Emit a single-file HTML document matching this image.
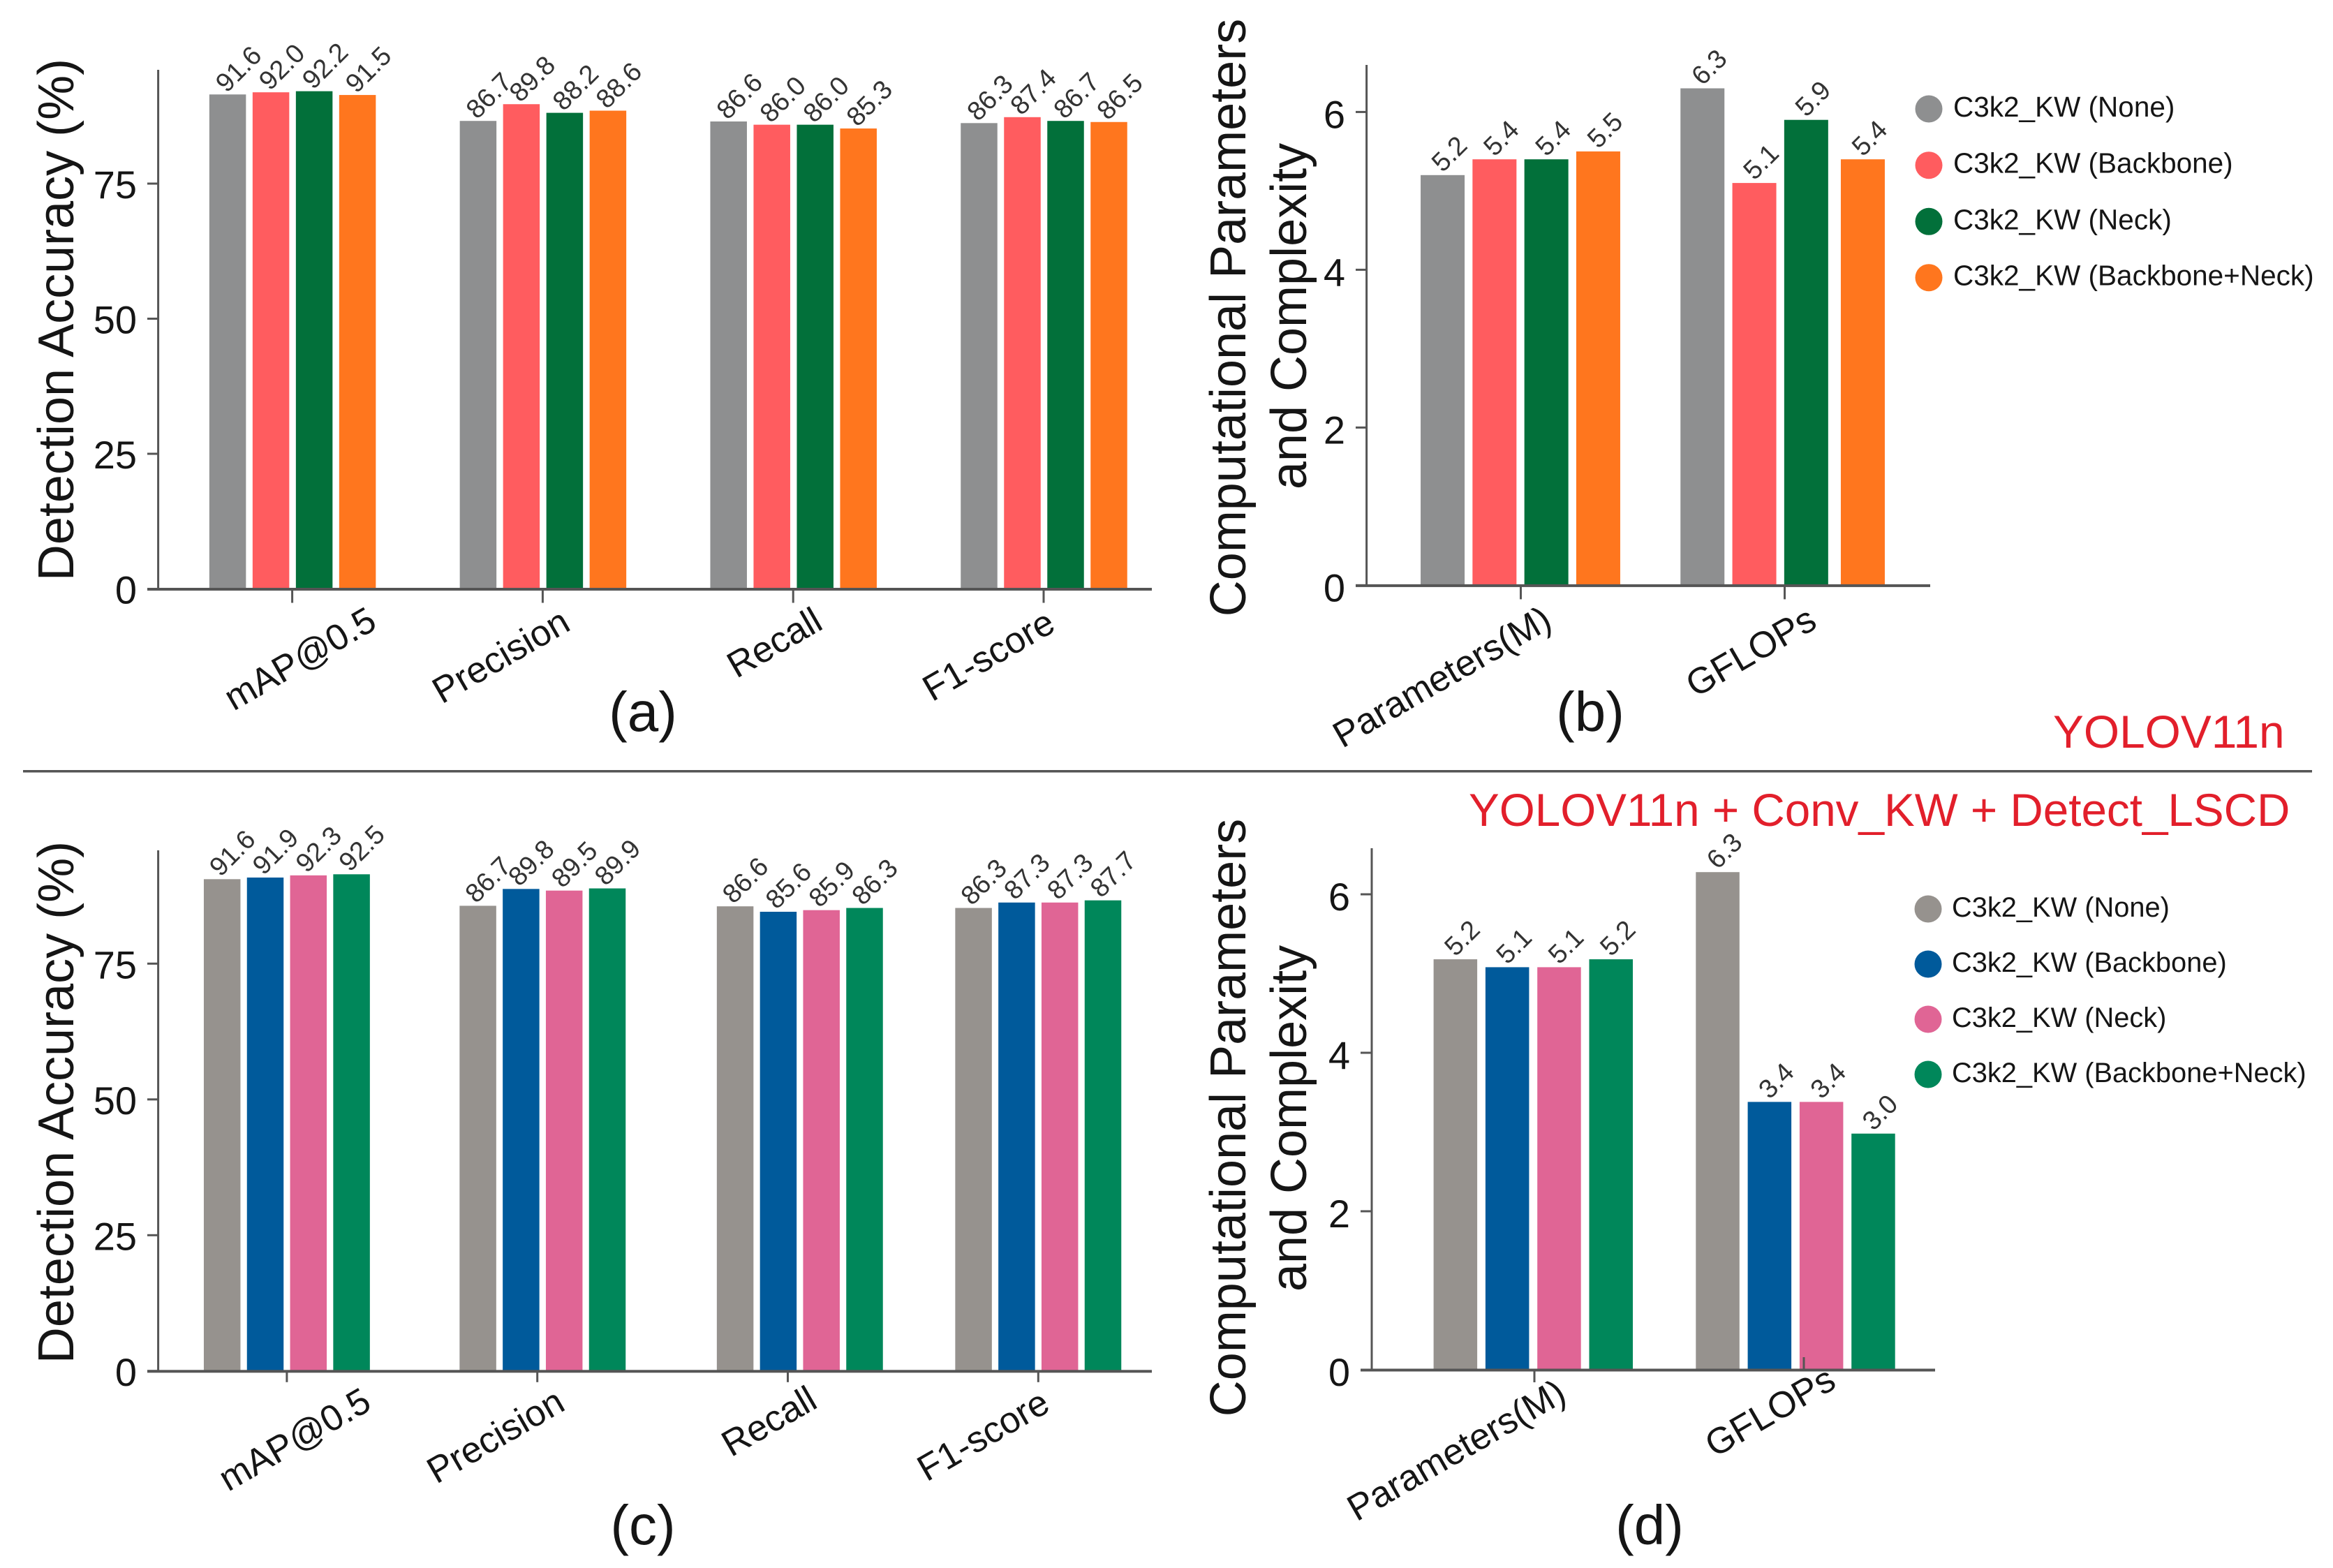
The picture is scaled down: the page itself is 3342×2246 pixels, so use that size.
<!DOCTYPE html>
<html lang="en">
<head>
<meta charset="utf-8">
<title>C3k2_KW detection accuracy and complexity comparison</title>
<style>
  html, body { margin: 0; padding: 0; background: #fff; }
  svg { display: block; }
  text { font-family: "Liberation Sans", Arial, sans-serif; fill: #151515; }
</style>
</head>
<body>
<svg id="figure" xmlns="http://www.w3.org/2000/svg" width="3342" height="2246" viewBox="0 0 3342 2246">
  <rect x="0" y="0" width="3342" height="2246" fill="#fff"/>
  <rect x="33" y="1103" width="3279" height="3.5" fill="#555"/>

  <text transform="translate(105,458) rotate(-90)" text-anchor="middle" font-size="72">Detection Accuracy (%)</text>
  <text transform="translate(1784,455) rotate(-90)" text-anchor="middle" font-size="72">Computational Parameters</text>
  <text transform="translate(1871,453) rotate(-90)" text-anchor="middle" font-size="72">and Complexity</text>
  <text transform="translate(105,1579) rotate(-90)" text-anchor="middle" font-size="72">Detection Accuracy (%)</text>
  <text transform="translate(1784,1601) rotate(-90)" text-anchor="middle" font-size="72">Computational Parameters</text>
  <text transform="translate(1871,1602) rotate(-90)" text-anchor="middle" font-size="72">and Complexity</text>

  <text x="921" y="1047" text-anchor="middle" font-size="80">(a)</text>
  <text x="2278" y="1047" text-anchor="middle" font-size="80">(b)</text>
  <text x="921" y="2212" text-anchor="middle" font-size="80">(c)</text>
  <text x="2363" y="2212" text-anchor="middle" font-size="80">(d)</text>

  <text x="2941" y="1071" font-size="65.8" style="fill:#e21f2b">YOLOV11n</text>
  <text x="2104" y="1183" font-size="65.6" style="fill:#e21f2b">YOLOV11n + Conv_KW + Detect_LSCD</text>

  <g>
    <circle cx="2763" cy="156" r="19.5" fill="#8e8f90"/>
    <text x="2798" y="167" font-size="40.5">C3k2_KW (None)</text>
    <circle cx="2763" cy="236.7" r="19.5" fill="#ff5c5f"/>
    <text x="2798" y="247.7" font-size="40.5">C3k2_KW (Backbone)</text>
    <circle cx="2763" cy="317.3" r="19.5" fill="#02703a"/>
    <text x="2798" y="328.3" font-size="40.5">C3k2_KW (Neck)</text>
    <circle cx="2763" cy="397.7" r="19.5" fill="#ff761e"/>
    <text x="2798" y="408.7" font-size="40.5">C3k2_KW (Backbone+Neck)</text>
  </g>
  <g>
    <circle cx="2762" cy="1302" r="19.5" fill="#96928e"/>
    <text x="2796" y="1313" font-size="39.8">C3k2_KW (None)</text>
    <circle cx="2762" cy="1381" r="19.5" fill="#005a9b"/>
    <text x="2796" y="1392" font-size="39.8">C3k2_KW (Backbone)</text>
    <circle cx="2762" cy="1460" r="19.5" fill="#e06595"/>
    <text x="2796" y="1471" font-size="39.8">C3k2_KW (Neck)</text>
    <circle cx="2762" cy="1539" r="19.5" fill="#00875a"/>
    <text x="2796" y="1550" font-size="39.8">C3k2_KW (Backbone+Neck)</text>
  </g>
</svg>

<script>
// ---- chart data ----
const accuracyCategories = ['mAP@0.5', 'Precision', 'Recall', 'F1-score'];
const complexityCategories = ['Parameters(M)', 'GFLOPs'];
const accuracyTicks = [0, 25, 50, 75];
const complexityTicks = [0, 2, 4, 6];

const aNone = [91.6, 86.7, 86.6, 86.3];
const aBackbone = [92.0, 89.8, 86.0, 87.4];
const aNeck = [92.2, 88.2, 86.0, 86.7];
const aBoth = [91.5, 88.6, 85.3, 86.5];

const bNone = [5.2, 6.3];
const bBackbone = [5.4, 5.1];
const bNeck = [5.4, 5.9];
const bBoth = [5.5, 5.4];

const cNone = [91.6, 86.7, 86.6, 86.3];
const cBackbone = [91.9, 89.8, 85.6, 87.3];
const cNeck = [92.3, 89.5, 85.9, 87.3];
const cBoth = [92.5, 89.9, 86.3, 87.7];

const dNone = [5.2, 6.3];
const dBackbone = [5.1, 3.4];
const dNeck = [5.1, 3.4];
const dBoth = [5.2, 3.0];

const seriesNames = ['none', 'backbone', 'neck', 'backbone-neck'];
const topColors = ['#8e8f90', '#ff5c5f', '#02703a', '#ff761e'];
const bottomColors = ['#96928e', '#005a9b', '#e06595', '#00875a'];

// ---- panel layout (geometry only, separate from the data) ----
const panels = [
  { id: 'a', categories: accuracyCategories, ticks: accuracyTicks, series: [aNone, aBackbone, aNeck, aBoth], colors: topColors,
    axisX: 226.6, axisTop: 100, axisLeft: 211, axisRight: 1650, base: 843.5, unit: 7.74, barShift: -0.1,
    tick0: 418.6, spacing: 358.8, step: 62, barW: 52.5, groupNudge: [0.5, 0.5, 0.5, 0.5], tickLen: 20, tickUp: [],
    tickLabelDy: 21, labelOffset: [[11, 100], [-60, 96], [-27, 77], [-79, 95]], valueDx: 15, valueDy: -37 },
  { id: 'b', categories: complexityCategories, ticks: complexityTicks, series: [bNone, bBackbone, bNeck, bBoth], colors: topColors,
    axisX: 1957.6, axisTop: 93, axisLeft: 1942, axisRight: 2765, base: 838.4, unit: 113, barShift: 0,
    tick0: 2178.5, spacing: 378, step: 74.3, barW: 63, groupNudge: [-0.5, -6.3], tickLen: 20, tickUp: [],
    lastBarNudge: [0, 6.8], tickLabelDy: 23, labelOffset: [[-113, 131], [-48.5, 95]], valueDx: 9, valueDy: -31 },
  { id: 'c', categories: accuracyCategories, ticks: accuracyTicks, series: [cNone, cBackbone, cNeck, cBoth], colors: bottomColors,
    axisX: 226.6, axisTop: 1218, axisLeft: 211, axisRight: 1650, base: 1963.8, unit: 7.78, barShift: -1.05,
    tick0: 410.9, spacing: 358.8, step: 61.8, barW: 52.5, groupNudge: [0, 7.6, 17.3, 0], tickLen: 16, tickUp: [],
    tickLabelDy: 21, labelOffset: [[11, 98], [-60, 93], [-27, 72], [-79, 92]], valueDx: 14, valueDy: -38 },
  { id: 'd', categories: complexityCategories, ticks: complexityTicks, series: [dNone, dBackbone, dNeck, dBoth], colors: bottomColors,
    axisX: 1965, axisTop: 1215, axisLeft: 1949, axisRight: 2772, base: 1962, unit: 113.5, barShift: -0.02,
    tick0: 2198, spacing: 386, step: 74.3, barW: 62.5, groupNudge: [-1.7, -12], tickLen: 18, tickUp: [false, true],
    tickLabelDy: 23, labelOffset: [[-112, 115], [-48.5, 60]], valueDx: 9, valueDy: -31 }
];

const SVG_NS = 'http://www.w3.org/2000/svg';
const figure = document.getElementById('figure');

function make(parent, tag, attrs, content) {
  const node = document.createElementNS(SVG_NS, tag);
  for (const key in attrs) node.setAttribute(key, attrs[key]);
  if (content !== undefined) node.textContent = content;
  parent.appendChild(node);
  return node;
}

function drawPanel(p) {
  const group = make(figure, 'g', {});
  
  

  const yScale = function (v) { return p.base - v * p.unit; };
  const xScale = function (i) { return p.tick0 + i * p.spacing; };

  // bars and printed values
  p.series.forEach(function (values, s) {
    values.forEach(function (value, i) {
      const nudge = (p.groupNudge[i] || 0) + (s === 3 && p.lastBarNudge ? p.lastBarNudge[i] : 0);
      const centre = xScale(i) + nudge + (s - 1.5) * p.step;
      const top = yScale(value + p.barShift);

      const bar = make(group, 'rect', {
        x: centre - p.barW / 2,
        y: top,
        width: p.barW,
        height: p.base - top,
        fill: p.colors[s]
      });
      
      

      const cx = centre + p.valueDx;
      const cy = top + p.valueDy;
      const label = make(group, 'text', {
        transform: 'translate(' + cx + ',' + cy + ') rotate(-45)',
        'text-anchor': 'middle',
        dy: '0.36em',
        'font-size': 38,
        style: 'fill:#333'
      }, value.toFixed(1));
      
      
    });
  });

  // y axis
  const yAxis = make(group, 'rect', { x: p.axisX - 1.5, y: p.axisTop, width: 3, height: p.base - p.axisTop, fill: '#555' });
  
  

  p.ticks.forEach(function (t) {
    const y = yScale(t);
    const mark = make(group, 'rect', { x: p.axisLeft, y: y - 1.5, width: p.axisX - p.axisLeft, height: 3, fill: '#555' });
    
    
    const lab = make(group, 'text', { x: p.axisLeft - 15, y: y + p.tickLabelDy, 'text-anchor': 'end', 'font-size': 56 }, String(t));
    
    
  });

  // x axis
  const xAxis = make(group, 'rect', { x: p.axisLeft, y: p.base - 1.5, width: p.axisRight - p.axisLeft, height: 4, fill: '#555' });
  
  

  p.categories.forEach(function (name, i) {
    const x = xScale(i);
    const up = p.tickUp[i];
    const mark = make(group, 'rect', { x: x - 1.5, y: up ? p.base - p.tickLen : p.base, width: 3, height: p.tickLen, fill: '#555' });
    
    
    const off = p.labelOffset[i];
    const lab = make(group, 'text', {
      transform: 'translate(' + (x + off[0]) + ',' + (p.base + off[1]) + ') rotate(-30)',
      'text-anchor': 'middle',
      dy: '0.34em',
      'font-size': 52.5
    }, name);
    
    
  });
}

panels.forEach(drawPanel);
</script>
</body>
</html>
